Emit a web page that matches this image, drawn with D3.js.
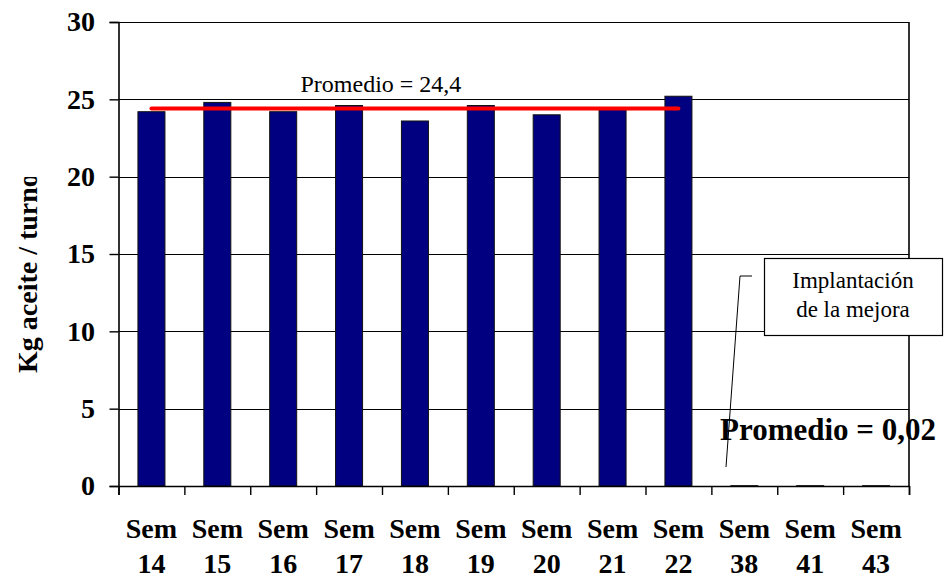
<!DOCTYPE html>
<html>
<head>
<meta charset="utf-8">
<script src="https://cdn.jsdelivr.net/npm/d3@7"></script>
<style>
  html, body { margin: 0; padding: 0; background: #fff; }
  svg { display: block; }
  text { font-family: "Liberation Serif", "Times New Roman", serif; fill: #000; }
</style>
</head>
<body>
<svg id="chart" width="947" height="580"></svg>
<script>
// Weekly oil consumption per shift
const categories = ["14", "15", "16", "17", "18", "19", "20", "21", "22", "38", "41", "43"];
const valuesBefore = [24.2, 24.8, 24.2, 24.6, 23.6, 24.6, 24.0, 24.4, 25.2];
const valuesAfter = [0.02, 0.02, 0.02];
const yTicks = [0, 5, 10, 15, 20, 25, 30];
const yTitle = "Kg aceite / turno";
const avgLabel = "Promedio = ";
const noteLines = ["Implantación", "de la mejora"];

const values = valuesBefore.concat(valuesAfter);
const data = categories.map((c, i) => ({ cat: c, value: values[i] }));

const svg = d3.select("#chart");
const plotLeft = 118.5, plotRight = 909, plotTop = 22, plotBottom = 486;

const x = d3.scaleBand().domain(categories).range([plotLeft, plotRight])
  .paddingInner(0.59).paddingOuter(0.295);
const xEdges = d3.scaleLinear().domain([0, categories.length]).range([plotLeft, plotRight]);
const y = d3.scaleLinear().domain([0, 30]).range([plotBottom, plotTop]);

const fmt = v => d3.format(".1f")(v).replace(".", ",");
const fmt2 = v => d3.format(".2f")(v).replace(".", ",");

// horizontal gridlines
svg.append("g")
  .selectAll("line").data(yTicks.filter(t => t > 0)).join("line")
  .attr("x1", plotLeft).attr("x2", plotRight)
  .attr("y1", d => Math.round(y(d)) + 0.5).attr("y2", d => Math.round(y(d)) + 0.5)
  .attr("stroke", "#000").attr("stroke-width", 1.2);

// right border of plot area
svg.append("line")
  .attr("x1", plotRight).attr("x2", plotRight).attr("y1", plotTop).attr("y2", plotBottom)
  .attr("stroke", "#000").attr("stroke-width", 1.6);

// bars
svg.append("g")
  .selectAll("rect").data(data).join("rect")
  .attr("x", d => x(d.cat))
  .attr("width", x.bandwidth())
  .attr("y", d => y(d.value))
  .attr("height", d => y(0) - y(d.value))
  .attr("fill", "#000080")
  .attr("stroke", "#111").attr("stroke-width", 1);

// y axis
const yAxis = svg.append("g")
  .attr("transform", `translate(${plotLeft},0)`)
  .call(d3.axisLeft(y).tickValues(yTicks).tickSize(9).tickPadding(14.5));
yAxis.select(".domain").attr("stroke", "#000").attr("stroke-width", 1.6);
yAxis.selectAll(".tick line").attr("stroke", "#000").attr("stroke-width", 1.4);
yAxis.selectAll(".tick text")
  .style("font-family", "'Liberation Serif', 'Times New Roman', serif")
  .style("font-size", "28px").style("font-weight", "bold").attr("fill", "#000");

// x axis: ticks at category boundaries
const xAxis = svg.append("g")
  .attr("transform", `translate(0,${plotBottom})`)
  .call(d3.axisBottom(xEdges).tickValues(d3.range(categories.length + 1))
    .tickSize(9).tickFormat(""));
xAxis.select(".domain").attr("stroke", "#000").attr("stroke-width", 1.6);
xAxis.selectAll(".tick line").attr("stroke", "#000").attr("stroke-width", 1.4);

// category labels
const xl = svg.append("g").selectAll("text").data(categories).join("text")
  .attr("text-anchor", "middle")
  .style("font-size", "28px").style("font-weight", "bold");
xl.append("tspan").attr("x", d => x(d) + x.bandwidth() / 2).attr("y", 538).text("Sem");
xl.append("tspan").attr("x", d => x(d) + x.bandwidth() / 2).attr("y", 573).text(d => d);

// y axis title, clipped at the top
svg.append("clipPath").attr("id", "ytitle-clip")
  .append("rect").attr("x", 0).attr("y", 177).attr("width", 90).attr("height", 403);
svg.append("g").attr("clip-path", "url(#ytitle-clip)")
  .append("text")
  .attr("transform", "translate(37,373) rotate(-90)")
  .attr("text-anchor", "start")
  .style("font-size", "28px").style("font-weight", "bold")
  .text(yTitle);

// average line over the first period
const avgBefore = d3.mean(valuesBefore);
const firstCat = categories[0], lastCat = categories[valuesBefore.length - 1];
svg.append("line")
  .attr("x1", x(firstCat) + x.bandwidth() / 2)
  .attr("x2", x(lastCat) + x.bandwidth() / 2)
  .attr("y1", y(avgBefore)).attr("y2", y(avgBefore))
  .attr("stroke", "#ff0000").attr("stroke-width", 4).attr("stroke-linecap", "round");
svg.append("text")
  .attr("x", 300.5).attr("y", 92)
  .style("font-size", "24px")
  .text(avgLabel + fmt(avgBefore));

// average of the second period
const avgAfter = d3.mean(valuesAfter);
svg.append("text")
  .attr("x", 720).attr("y", 440)
  .style("font-size", "31px").style("font-weight", "bold")
  .text(avgLabel + fmt2(avgAfter));

// callout pointing to the improvement
svg.append("path")
  .attr("d", "M752,276 L740,276 L726,467")
  .attr("fill", "none").attr("stroke", "#000").attr("stroke-width", 1);

svg.append("rect")
  .attr("x", 764.5).attr("y", 258.5).attr("width", 178).attr("height", 77)
  .attr("fill", "#fff").attr("stroke", "#000").attr("stroke-width", 1.2);
svg.append("text")
  .attr("text-anchor", "middle")
  .style("font-size", "23px")
  .selectAll("tspan").data(noteLines).join("tspan")
  .attr("x", 853).attr("y", (d, i) => 288 + i * 29)
  .text(d => d);
</script>
</body>
</html>
